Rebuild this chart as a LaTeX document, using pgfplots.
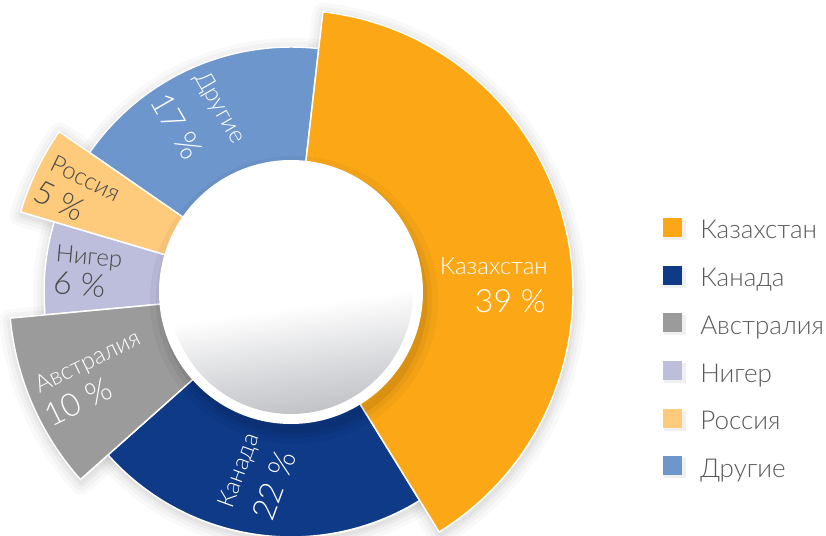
\documentclass[border=0pt]{standalone}
\usepackage{pgfplots}
\pgfplotsset{compat=1.18}
\usepackage{pgfplotstable}
\usepackage{fontspec}
\IfFontExistsTF{Lato Light}{\setmainfont{Lato Light}}{\setmainfont{Lato}}
\definecolor{cKaz}{HTML}{FCA816}
\definecolor{cCan}{HTML}{0E3A87}
\definecolor{cAus}{HTML}{9B9B9B}
\definecolor{cNig}{HTML}{BDBDDC}
\definecolor{cRus}{HTML}{FECA7C}
\definecolor{cOth}{HTML}{6C96CC}
\definecolor{txt}{HTML}{5A5A5A}
\definecolor{dtxt}{HTML}{4A4A4A}
\definecolor{dg1}{HTML}{C2C3C7}
\definecolor{dg2}{HTML}{D6D7DA}
\pgfdeclareverticalshading{discshade}{100bp}{color(0bp)=(dg1); color(25bp)=(dg1); color(33bp)=(dg2); color(47bp)=(white); color(100bp)=(white)}

% share (%), outer radius (px)
\pgfplotstableread{
idx value radius
0 39 282
1 22 245
2 10 282
3 6 247
4 5 282
5 17 245
}\sharetable

\newcommand\namefont{\fontsize{18}{21}\selectfont}
\newcommand\pctfont{\fontsize{24}{28}\selectfont}
\newcommand\legfont{\fontsize{19.5}{22}\selectfont}

% slice path: #1 index, #2 cx, #3 cy, #4 options
\newcommand\pieslice[4]{\path[#4] (axis cs:#2,#3) -- ++(\csname S#1\endcsname:\csname R#1\endcsname*0.75pt) arc[start angle=\csname S#1\endcsname, end angle=\csname E#1\endcsname, radius=\csname R#1\endcsname*0.75pt] -- cycle;}
\newcommand\sliceshadow[1]{%
\pieslice{#1}{292}{241}{draw=black, draw opacity=0.022, line width=18pt, line join=round}%
\pieslice{#1}{292}{241}{draw=black, draw opacity=0.028, line width=12pt, line join=round}%
\pieslice{#1}{292}{241}{draw=black, draw opacity=0.032, line width=6.5pt, line join=round}%
\pieslice{#1}{292}{241}{draw=black, draw opacity=0.035, line width=2.5pt, line join=round}}

\begin{document}
\begin{tikzpicture}
\pgfmathsetmacro\total{0}%
\pgfplotsforeachungrouped \i in {0,...,5}{%
  \pgfplotstablegetelem{\i}{value}\of\sharetable
  \pgfmathsetmacro\total{\total+\pgfplotsretval}%
}%
\pgfmathsetmacro\cur{83.5}%
\pgfplotsforeachungrouped \i in {0,...,5}{%
  \pgfplotstablegetelem{\i}{value}\of\sharetable
  \pgfmathsetmacro\myv{\pgfplotsretval}%
  \pgfplotstablegetelem{\i}{radius}\of\sharetable
  \expandafter\edef\csname R\i\endcsname{\pgfplotsretval}%
  \expandafter\edef\csname S\i\endcsname{\cur}%
  \pgfmathsetmacro\cur{\cur-360*\myv/\total}%
  \expandafter\edef\csname E\i\endcsname{\cur}%
}%
\begin{axis}[
  scale only axis, width=619.5pt, height=402pt,
  xmin=0, xmax=826, ymin=0, ymax=536,
  hide axis, clip=false]
\coordinate (BL) at (axis cs:0,0);
\coordinate (TR) at (axis cs:826,536);
% shadows
\sliceshadow{1}\sliceshadow{3}\sliceshadow{5}
\sliceshadow{0}\sliceshadow{2}\sliceshadow{4}
% slices
\pieslice{1}{291}{244}{fill=cCan, draw=white, line width=1.1pt}
\pieslice{3}{291}{244}{fill=cNig, draw=white, line width=1.1pt}
\pieslice{5}{291}{244}{fill=cOth, draw=white, line width=1.1pt}
\pieslice{0}{291}{244}{fill=cKaz, draw=white, line width=1.1pt}
\pieslice{2}{291}{244}{fill=cAus, draw=white, line width=1.1pt}
\pieslice{4}{291}{244}{fill=cRus, draw=white, line width=1.1pt}
% centre disc with soft shadow below
\draw[black, draw opacity=0.035, line width=22pt] (axis cs:294,236) circle[radius=97pt];
\draw[black, draw opacity=0.045, line width=13pt] (axis cs:294,236) circle[radius=97pt];
\draw[black, draw opacity=0.06, line width=6pt] (axis cs:294,236) circle[radius=97pt];
\fill[white] (axis cs:291,244) circle[radius=99pt];
\shade[shading=discshade, shading angle=8] (axis cs:291,244) circle[radius=91.5pt];
% slice labels
\node[anchor=base east, inner sep=0, text=white, font=\namefont] at (axis cs:548,261) {Казахстан};
\node[anchor=base east, inner sep=0, text=white, font=\pctfont] at (axis cs:546,223) {39 \%};
\node[inner sep=0, rotate=-60, text=white, font=\namefont] at (axis cs:219.5,428) {Другие};
\node[inner sep=0, rotate=-60, text=white, font=\pctfont] at (axis cs:177,410) {17 \%};
\node[inner sep=0, rotate=-26, text=dtxt, font=\namefont] at (axis cs:85.5,357.5) {Россия};
\node[inner sep=0, rotate=-26, text=dtxt, font=\pctfont] at (axis cs:59.5,335) {5 \%};
\node[inner sep=0, rotate=-5, text=dtxt, font=\namefont] at (axis cs:89,277.5) {Нигер};
\node[inner sep=0, rotate=-5, text=dtxt, font=\pctfont] at (axis cs:79.5,251.5) {6 \%};
\node[inner sep=0, rotate=26, text=white, font=\namefont] at (axis cs:88,173) {Австралия};
\node[inner sep=0, rotate=26, text=white, font=\pctfont] at (axis cs:78,134.5) {10 \%};
\node[inner sep=0, rotate=70, text=white, font=\namefont] at (axis cs:240,65) {Канада};
\node[inner sep=0, rotate=70, text=white, font=\pctfont] at (axis cs:274,50.5) {22 \%};
% legend
\fill[black, opacity=0.06] (axis cs:664,296) rectangle (axis cs:686,316);
\fill[black, opacity=0.06] (axis cs:664,248.3) rectangle (axis cs:686,268.3);
\fill[black, opacity=0.06] (axis cs:664,200.6) rectangle (axis cs:686,220.6);
\fill[black, opacity=0.06] (axis cs:664,152.9) rectangle (axis cs:686,172.9);
\fill[black, opacity=0.06] (axis cs:664,105.2) rectangle (axis cs:686,125.2);
\fill[black, opacity=0.06] (axis cs:664,57.5) rectangle (axis cs:686,77.5);
\fill[cKaz] (axis cs:663,299) rectangle (axis cs:682,318);
\fill[cCan] (axis cs:663,251.3) rectangle (axis cs:682,270.3);
\fill[cAus] (axis cs:663,203.6) rectangle (axis cs:682,222.6);
\fill[cNig] (axis cs:663,155.9) rectangle (axis cs:682,174.9);
\fill[cRus] (axis cs:663,108.2) rectangle (axis cs:682,127.2);
\fill[cOth] (axis cs:663,60.5) rectangle (axis cs:682,79.5);
\node[anchor=base west, inner sep=0, text=txt, font=\legfont] at (axis cs:700,297) {Казахстан};
\node[anchor=base west, inner sep=0, text=txt, font=\legfont] at (axis cs:700,249.3) {Канада};
\node[anchor=base west, inner sep=0, text=txt, font=\legfont] at (axis cs:700,201.6) {Австралия};
\node[anchor=base west, inner sep=0, text=txt, font=\legfont] at (axis cs:700,153.9) {Нигер};
\node[anchor=base west, inner sep=0, text=txt, font=\legfont] at (axis cs:700,106.2) {Россия};
\node[anchor=base west, inner sep=0, text=txt, font=\legfont] at (axis cs:700,58.5) {Другие};
\end{axis}
\pgfresetboundingbox
\path[use as bounding box] (BL) rectangle (TR);
\end{tikzpicture}
\end{document}
